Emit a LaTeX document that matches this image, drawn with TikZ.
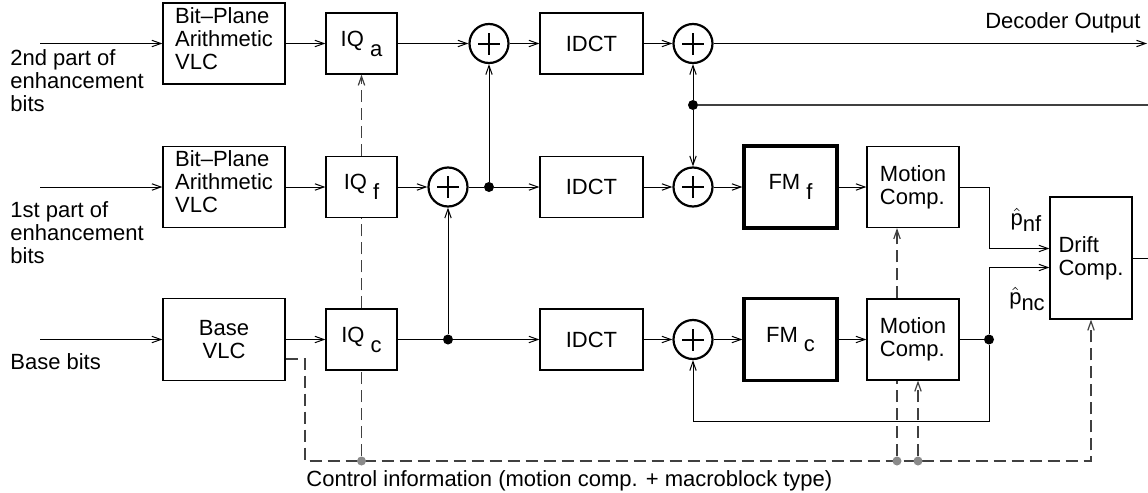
\documentclass[tikz,border=0pt]{standalone}
\usepackage{fontspec}
\setmainfont{Liberation Sans}
\usetikzlibrary{arrows.meta,calc,positioning}
\definecolor{CtrlGray}{HTML}{404040}
\definecolor{DotGray}{HTML}{8A8A8A}
\newcommand{\lowsub}[1]{\raisebox{-0.45em}{#1}}
\newcommand{\hatsub}[1]{\(\hat{\mbox{p}}\)\raisebox{-0.28em}{#1}}
\tikzset{
  box/.style={draw, line width=0.6pt, inner sep=0pt, align=left},
  bpbox/.style={box, minimum width=61pt, minimum height=40.5pt, text depth=5pt},
  iqbox/.style={box, minimum width=35.5pt, minimum height=30.5pt},
  idctbox/.style={box, minimum width=51.5pt, minimum height=30.5pt},
  fmbox/.style={box, line width=1.6pt, minimum width=46.5pt, minimum height=41pt},
  mcbox/.style={box, minimum width=46pt, minimum height=40.5pt},
  driftbox/.style={box, minimum width=41pt, minimum height=61pt},
  adder/.style={circle, draw, line width=1.1pt, minimum size=19.5pt, inner sep=0pt,
    path picture={\draw[line width=1pt]
      ([xshift=-5.5pt]path picture bounding box.center) -- ([xshift=5.5pt]path picture bounding box.center)
      ([yshift=-5.5pt]path picture bounding box.center) -- ([yshift=5.5pt]path picture bounding box.center);}},
  junction/.style={circle, fill, inner sep=0pt, minimum size=5pt},
  ctrldot/.style={circle, fill=DotGray, inner sep=0pt, minimum size=4.5pt},
  signal/.style={line width=0.5pt},
  ctrl/.style={CtrlGray, line width=0.6pt, dash pattern=on 6pt off 3pt},
  inlabel/.style={anchor=north west, inner sep=0pt, align=left}
}

\begin{document}
\begin{tikzpicture}[x=0.5pt, y=-0.5pt, font=\fontsize{11}{11.5}\selectfont,
  >={Straight Barb[length=4.5pt,width=3.2pt]}]
\useasboundingbox (0,0) rectangle (1148,493);

\coordinate (inA) at (40,43.5);
\coordinate (inF) at (40,187);
\coordinate (inC) at (40,339.5);
\coordinate (outDec) at (1147,43.5);
\coordinate (fbIn) at (1148,105);
\coordinate (outDrift) at (1148,258);
\coordinate (loopR) at (989,421);
\coordinate (ctrlL) at (305,461);

\node[inlabel] (lblA) at (10,49) {2nd part of\\enhancement\\bits};
\node[inlabel] (lblF) at (10,201) {1st part of\\enhancement\\bits};
\node[inlabel] (lblC) at (10,353) {Base bits};

\node[bpbox] (bitA) at (224,43.5) {Bit--Plane\\Arithmetic\\VLC};
\node[bpbox] (bitF) at (224,187) {Bit--Plane\\Arithmetic\\VLC};
\node[box, align=center, minimum width=61pt, minimum height=41pt] (baseVLC) at (224,339.5) {Base\\VLC};

\node[iqbox] (iqA) at (361.5,43.5) {IQ \lowsub{a}};
\node[iqbox] (iqF) at (361.5,187) {IQ \lowsub{f}};
\node[iqbox] (iqC) at (361.5,339.5) {IQ \lowsub{c}};

\node[adder] (addA) at (489,43.5) {};
\node[adder] (addF) at (448,187) {};
\node[junction] (dotF) at (489,187) {};
\node[junction] (dotC) at (448,339.5) {};

\node[idctbox] (idctA) at (591.5,43.5) {IDCT};
\node[idctbox] (idctF) at (591.5,187) {IDCT};
\node[idctbox] (idctC) at (591.5,339.5) {IDCT};

\node[adder] (addOut) at (693,43.5) {};
\node[junction] (dotOut) at (693,105) {};
\node[adder] (addM) at (693,187) {};
\node[adder] (addC) at (693,339.5) {};

\node[fmbox] (fmF) at (790.5,187) {FM \lowsub{f}};
\node[fmbox] (fmC) at (790.5,339.5) {FM \lowsub{c}};

\node[mcbox] (mcF) at (913,187) {Motion\\Comp.};
\node[mcbox] (mcC) at (913,339.5) {Motion\\Comp.};
\node[junction] (dotMC) at (989,339.5) {};

\node[driftbox] (drift) at (1091,258) {Drift\\Comp.};

\node[anchor=base east, inner sep=0pt] (lblOut) at (1141,28) {Decoder Output};
\node[inner sep=0pt] (lblNF) at (1026,220) {\hatsub{nf}};
\node[inner sep=0pt] (lblNC) at (1027,299) {\hatsub{nc}};
\node[anchor=base west, inner sep=0pt] (lblCtrl) at (306,486) {Control information (motion comp. + macroblock type)};

\draw[signal,->] (inA) -- (bitA);
\draw[signal,->] (bitA) -- (iqA);
\draw[signal,->] (iqA) -- (addA);
\draw[signal,->] (addA) -- (idctA);
\draw[signal,->] (idctA) -- (addOut);
\draw[signal,->] (addOut) -- (outDec);

\draw[signal,->] (inF) -- (bitF);
\draw[signal,->] (bitF) -- (iqF);
\draw[signal,->] (iqF) -- (addF);
\draw[signal] (addF) -- (dotF);
\draw[signal,->] (dotF) -- (idctF);
\draw[signal,->] (dotF) -- (addA);
\draw[signal,->] (idctF) -- (addM);
\draw[line width=0.8pt, black!75] (fbIn) -- (dotOut);
\draw[signal,->] (dotOut) -- (addOut);
\draw[signal,->] (dotOut) -- (addM);
\draw[signal,->] (addM) -- (fmF);
\draw[signal,->] (fmF) -- (mcF);
\draw[signal,->] (mcF.east) -- (mcF.east -| dotMC) |- ([yshift=4.75pt]drift.west);

\draw[signal,->] (inC) -- (baseVLC);
\draw[signal,->] (baseVLC) -- (iqC);
\draw[signal] (iqC) -- (dotC);
\draw[signal,->] (dotC) -- (idctC);
\draw[signal,->] (dotC) -- (addF);
\draw[signal,->] (idctC) -- (addC);
\draw[signal,->] (addC) -- (fmC);
\draw[signal,->] (fmC) -- (mcC);
\draw[signal] (mcC) -- (dotMC);
\draw[signal,->] (dotMC) |- ([yshift=-4.75pt]drift.west);
\draw[signal,->] (dotMC) -- (loopR) -| (addC);
\draw[signal] (drift.east |- outDrift) -- (outDrift);

\draw[ctrl,->] ([yshift=-9.75pt]baseVLC.east) -| (ctrlL) -| (drift.south);
\node[ctrldot] (g1) at (iqC.south |- ctrlL) {};
\node[ctrldot] (g2) at (897,461) {};
\node[ctrldot] (g3) at (918,461) {};
\draw[ctrl] (g1) -- (iqC.south);
\draw[ctrl] (iqC.north) -- (iqF.south);
\draw[ctrl,->] (iqF.north) -- (iqA.south);
\draw[ctrl] (g2) -- (g2 |- mcC.south);
\draw[ctrl,->] (g2 |- mcC.north) -- (g2 |- mcF.south);
\draw[ctrl,->] (g3) -- (g3 |- mcC.south);

\end{tikzpicture}
\end{document}
